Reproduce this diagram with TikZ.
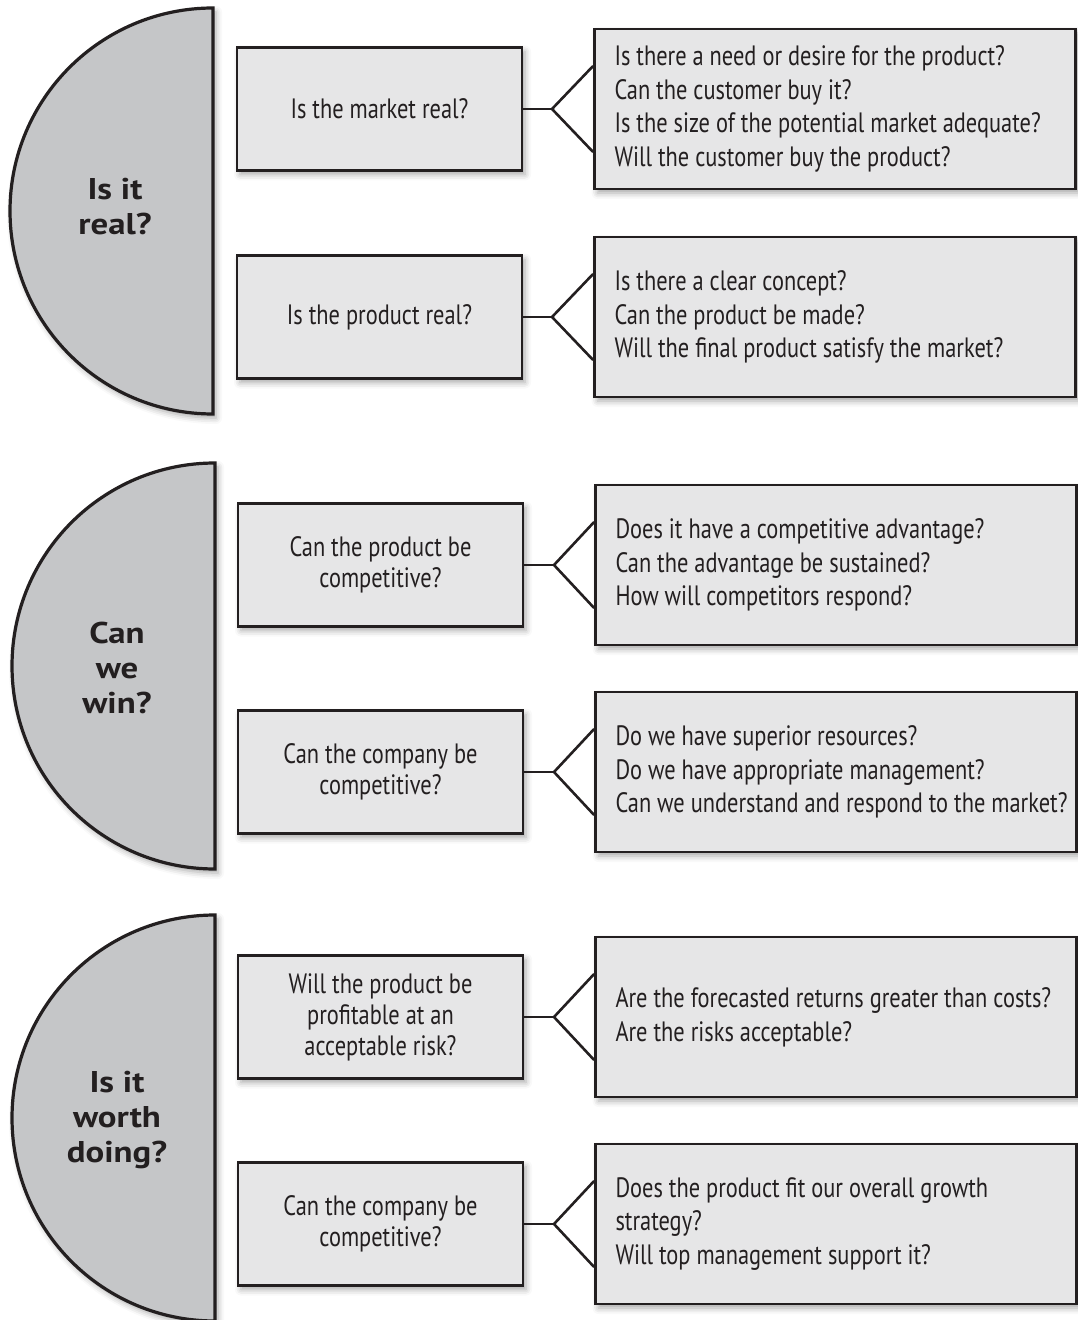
\documentclass[tikz,border=0pt]{standalone}
\usepackage{fontspec}
\newfontfamily\condfont[FakeStretch=0.80]{PT Sans}
\newfontfamily\headfont[FakeStretch=1.16]{PT Sans}
\usetikzlibrary{shadows.blur,calc}
\definecolor{inkgray}{HTML}{231F20}
\definecolor{halffill}{HTML}{C5C6C8}
\definecolor{boxfill}{HTML}{E6E6E7}

\begin{document}
\begin{tikzpicture}[x=0.5pt,y=-0.5pt]
	\tikzset{softshade/.style={blur shadow={shadow xshift=1.5pt,shadow yshift=-2pt,shadow blur radius=3pt,shadow opacity=35}}}
	\tikzset{half/.style={draw=inkgray,line width=1.6pt,fill=halffill,softshade}}
	\tikzset{headtext/.style={font=\headfont\bfseries\fontsize{15}{17.5}\selectfont,text=inkgray,align=center}}
	\tikzset{askbox/.style={draw=inkgray,line width=1.4pt,fill=boxfill,softshade,minimum width=142.5pt,minimum height=61.5pt,align=center,font=\condfont\fontsize{14}{15.5}\selectfont,text=inkgray}}
	\tikzset{detailbox/.style={draw=inkgray,line width=1.4pt,fill=boxfill,softshade,minimum width=240.5pt,minimum height=80pt,inner xsep=10pt,text width=220.5pt,align=flush left,font=\condfont\fontsize{14}{16.85}\selectfont,text=inkgray}}
	\tikzset{link/.style={draw=inkgray,line width=1.3pt}}
	\useasboundingbox (0,0) rectangle (1077,1320);

	\path[half] (213,414) -- (213,8) arc[start angle=90,end angle=270,radius=101.5pt] -- cycle;
	\path[half] (215,869) -- (215,463) arc[start angle=90,end angle=270,radius=101.5pt] -- cycle;
	\path[half] (215,1321) -- (215,915) arc[start angle=90,end angle=270,radius=101.5pt] -- cycle;
	\node[headtext] (real) at (115,207) {Is it\\real?};
	\node[headtext] (win) at (117,668) {Can\\we\\win?};
	\node[headtext] (worth) at (117,1120) {Is it\\worth\\doing?};

	\node[askbox] (m1) at (379.5,109) {Is the market real?};
	\node[askbox] (m2) at (379.5,317) {Is the product real?};
	\node[askbox] (m3) at (380.5,565) {Can the product be\\competitive?};
	\node[askbox] (m4) at (380.5,772) {Can the company be\\competitive?};
	\node[askbox] (m5) at (380.5,1017) {Will the product be\\profitable at an\\acceptable risk?};
	\node[askbox] (m6) at (380.5,1224) {Can the company be\\competitive?};

	\node[detailbox] (r1) at (835,109) {Is there a need or desire for the product?\\Can the customer buy it?\\Is the size of the potential market adequate?\\Will the customer buy the product?};
	\node[detailbox] (r2) at (835,317) {Is there a clear concept?\\Can the product be made?\\Will the final product satisfy the market?};
	\node[detailbox] (r3) at (836,565) {Does it have a competitive advantage?\\Can the advantage be sustained?\\How will competitors respond?};
	\node[detailbox] (r4) at (836,772) {Do we have superior resources?\\Do we have appropriate management?\\\mbox{Can we understand and respond to the market?}};
	\node[detailbox] (r5) at (836,1017) {Are the forecasted returns greater than costs?\\Are the risks acceptable?};
	\node[detailbox] (r6) at (836,1224) {Does the product fit our overall growth\\strategy?\\Will top management support it?};

	\foreach \n/\jx/\yc in {1/552/109,2/552/317,3/554/565,4/554/772,5/554/1017,6/554/1224} {
		\coordinate (j\n) at (\jx,\yc);
		\draw[link] (m\n.east) -- (j\n);
		\draw[link] ($(r\n.west)+(0,-43)$) -- (j\n) -- ($(r\n.west)+(0,43)$);
	}
\end{tikzpicture}
\end{document}
